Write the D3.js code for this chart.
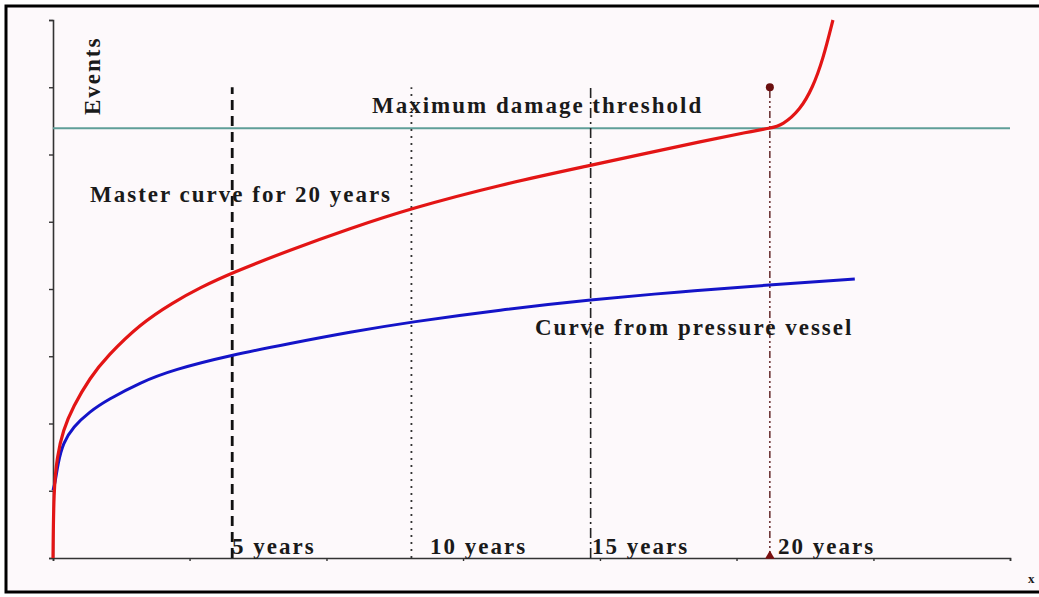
<!DOCTYPE html>
<html><head><meta charset="utf-8">
<script src="https://cdn.jsdelivr.net/npm/d3@7"></script>
<style>
html,body{margin:0;padding:0;background:#fff;}
svg{display:block;}
.lbl{font-family:"Liberation Serif","Times New Roman",serif;font-weight:bold;font-size:23px;letter-spacing:2px;fill:#1a1a1a;}
</style></head>
<body>
<svg id="chart" width="1039" height="597"></svg>
<script>
// ---- data (x in years, y in event units) ----
const masterX = [0, 0, 0.02, 0.11, 0.28, 0.56, 1.03, 1.51, 2.43, 3.35, 4.1, 4.99, 6.61, 8.28, 9.99, 12.47, 15.01, 16.65, 18.05, 19.44, 20.0, 20.36, 20.84, 21.2, 21.48, 21.76, 21.76];
const masterY = [0, 0, 1.01, 1.5, 1.9, 2.25, 2.68, 3.0, 3.48, 3.8, 4.02, 4.24, 4.58, 4.9, 5.2, 5.55, 5.84, 6.03, 6.19, 6.34, 6.39, 6.44, 6.66, 7.0, 7.41, 8.0, 8.0];
const vesselX = [0, 0.06, 0.14, 0.28, 0.56, 1.03, 1.51, 2.43, 3.35, 4.99, 6.61, 8.28, 9.99, 12.47, 15.01, 17.49, 20.0, 22.37, 22.37];
const vesselY = [1.01, 1.12, 1.41, 1.71, 1.95, 2.18, 2.35, 2.61, 2.8, 3.02, 3.19, 3.36, 3.51, 3.69, 3.84, 3.96, 4.06, 4.15, 4.15];
const thresholdY = 6.39;
const milestoneYears = [5, 10, 15, 20];
const milestoneLabels = ["5 years", "10 years", "15 years", "20 years"];
const milestoneTop = 7;
const yTicks = [0, 1, 2, 3, 4, 5, 6, 7, 8];
const xTicks = [0, 3.81, 7.63, 11.44, 15.26, 19.07, 22.89, 26.7];
const xMax = 26.7, yMax = 8;

const svg = d3.select("#chart");
const x = d3.scaleLinear().domain([0, xMax]).range([53, 1010]);
const y = d3.scaleLinear().domain([0, yMax]).range([558, 20]);

// frame & background
svg.append("rect").attr("x", 6).attr("y", 6).attr("width", 1045).attr("height", 586)
  .attr("fill", "#fdf9fb").attr("stroke", "#000").attr("stroke-width", 3);

// axes
const yAxis = d3.axisLeft(y).tickValues(yTicks).tickSize(4).tickFormat("");
const gy = svg.append("g").attr("transform", "translate(53,0)").call(yAxis);
const xAxis = d3.axisBottom(x).tickValues(xTicks).tickSize(3).tickFormat("");
const gx = svg.append("g").attr("transform", "translate(0,558)").call(xAxis);
[gx, gy].forEach(g => {
  g.select(".domain").attr("stroke", "#333").attr("stroke-width", 1.6);
  g.selectAll(".tick line").attr("stroke", "#333").attr("stroke-width", 1.4);
});
svg.append("text").attr("class", "lbl").attr("x", 1028).attr("y", 583).style("font-size", "13px").style("letter-spacing", "0px").text("x");

// threshold line
svg.append("line").attr("x1", x(0)).attr("x2", x(xMax)).attr("y1", y(thresholdY)).attr("y2", y(thresholdY))
  .attr("stroke", "#5f9e98").attr("stroke-width", 2);

// milestone vertical lines
const dashes = ["10,6", "2,5", "10,4,2,4", "7,3,2,3,2,3"];
const mColors = ["#111", "#333", "#222", "#5a1a1a"];
const mWidths = [2.8, 1.8, 1.6, 1.4];
milestoneYears.forEach((yr, i) => {
  svg.append("line").attr("x1", x(yr)).attr("x2", x(yr)).attr("y1", y(0)).attr("y2", y(milestoneTop))
    .attr("stroke", mColors[i]).attr("stroke-width", mWidths[i]).attr("stroke-dasharray", dashes[i]);
});
// markers at 20 years
svg.append("circle").attr("cx", x(20)).attr("cy", y(milestoneTop)).attr("r", 4).attr("fill", "#6b0f0f");
svg.append("path").attr("d", d3.symbol(d3.symbolTriangle, 40)())
  .attr("transform", `translate(${x(20)},${y(0) - 2})`).attr("fill", "#7a1010");

// curves
const line = d3.line().x(d => x(d[0])).y(d => y(d[1])).curve(d3.curveBasis);
const master = masterX.map((v, i) => [v, masterY[i]]);
const vessel = vesselX.map((v, i) => [v, vesselY[i]]);
svg.append("path").datum(vessel).attr("d", line).attr("fill", "none")
  .attr("stroke", "#1414c8").attr("stroke-width", 3);
svg.append("path").datum(master).attr("d", line).attr("fill", "none")
  .attr("stroke", "#e31515").attr("stroke-width", 3.2);

// labels
svg.append("text").attr("class", "lbl").attr("transform", "translate(100,115) rotate(-90)").text("Events");
svg.append("text").attr("class", "lbl").attr("x", 372).attr("y", 113).text("Maximum damage threshold");
svg.append("text").attr("class", "lbl").attr("x", 90).attr("y", 202).text("Master curve for 20 years");
svg.append("text").attr("class", "lbl").attr("x", 535).attr("y", 335).text("Curve from pressure vessel");
const lx = [232, 430, 592, 778];
milestoneLabels.forEach((t, i) => {
  svg.append("text").attr("class", "lbl").attr("x", lx[i]).attr("y", 554).text(t);
});
</script>
</body></html>
